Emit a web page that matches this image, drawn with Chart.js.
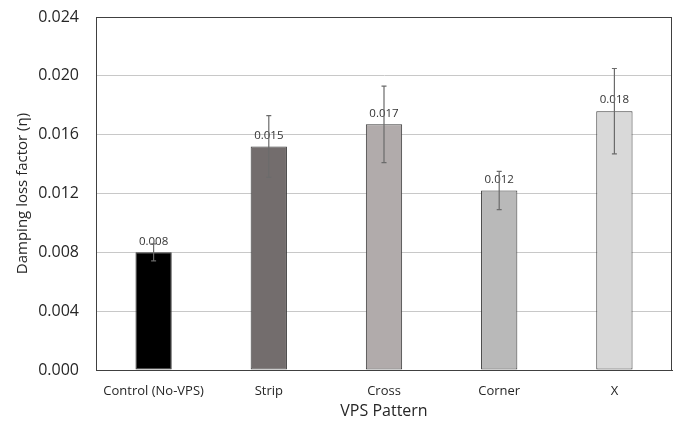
<!DOCTYPE html>
<html>
<head>
<meta charset="utf-8">
<script src="https://cdn.jsdelivr.net/npm/chart.js"></script>
<style>
  html, body { margin: 0; padding: 0; background: #fff; }
  #wrap { width: 678px; height: 422px; }
</style>
</head>
<body>
<div id="wrap"><canvas id="chart" width="678" height="422"></canvas></div>
<script>
const patterns = ['Control (No-VPS)', 'Strip', 'Cross', 'Corner', 'X'];
const lossFactor = [0.0080, 0.0152, 0.0167, 0.0122, 0.0176];
const errors = [0.00058, 0.0021, 0.0026, 0.0013, 0.0029];
const yTicks = [0, 0.004, 0.008, 0.012, 0.016, 0.020, 0.024];
const barColors = ['#000000', '#736d6d', '#b1abab', '#b9b9b9', '#d9d9d9'];

const FONT = '"Open Sans", "DejaVu Sans", sans-serif';

// value labels above bars, then error bars on top
const barExtras = {
  id: 'barExtras',
  afterDatasetsDraw(chart) {
    const ctx = chart.ctx;
    const y = chart.scales.y;
    const meta = chart.getDatasetMeta(0);
    ctx.save();
    ctx.font = '11.5px ' + FONT;
    ctx.fillStyle = '#333333';
    ctx.textAlign = 'center';
    ctx.textBaseline = 'middle';
    meta.data.forEach((bar, i) => {
      ctx.fillText(lossFactor[i].toFixed(3), bar.x, bar.y - 11);
    });
    ctx.strokeStyle = '#6b6b6b';
    ctx.lineWidth = 1.2;
    meta.data.forEach((bar, i) => {
      const hi = y.getPixelForValue(lossFactor[i] + errors[i]);
      const lo = y.getPixelForValue(lossFactor[i] - errors[i]);
      ctx.beginPath();
      ctx.moveTo(bar.x, hi); ctx.lineTo(bar.x, lo);
      ctx.moveTo(bar.x - 2.5, hi); ctx.lineTo(bar.x + 2.5, hi);
      ctx.moveTo(bar.x - 2.5, lo); ctx.lineTo(bar.x + 2.5, lo);
      ctx.stroke();
    });
    // plot frame
    const a = chart.chartArea;
    ctx.strokeStyle = '#404040';
    ctx.lineWidth = 1;
    ctx.strokeRect(a.left + 0.5, a.top + 0.5, a.right - a.left - 1, a.bottom - a.top);
    ctx.restore();
  }
};

new Chart(document.getElementById('chart'), {
  type: 'bar',
  data: {
    labels: patterns,
    datasets: [{
      data: lossFactor,
      backgroundColor: barColors,
      borderColor: '#3a3a3a',
      borderWidth: 1,
      borderSkipped: false,
      categoryPercentage: 1,
      barPercentage: 0.315
    }]
  },
  options: {
    responsive: false,
    animation: false,
    layout: { padding: { left: 0, right: 6, top: 17, bottom: 0 } },
    plugins: {
      legend: { display: false },
      tooltip: { enabled: false }
    },
    scales: {
      x: {
        afterFit: s => { s.height = 52; },
        grid: { display: false },
        border: { color: '#404040', width: 1 },
        ticks: { color: '#262626', font: { family: FONT, size: 13 }, padding: 5, maxRotation: 0 },
        title: {
          display: true, text: 'VPS Pattern', color: '#262626',
          font: { family: FONT, size: 16 }, padding: { top: 0, bottom: 1 }
        }
      },
      y: {
        min: 0,
        max: 0.024,
        afterFit: s => { s.width = 96; s.paddingTop = 0; s.paddingBottom = 0; },
        afterBuildTicks: s => { s.ticks = yTicks.map(v => ({ value: v })); },
        grid: { color: '#c8c8c8', drawTicks: false },
        border: { color: '#404040', width: 1 },
        ticks: {
          color: '#262626', font: { family: FONT, size: 16 }, padding: 17,
          callback: v => v.toFixed(3)
        },
        title: {
          display: true, text: 'Damping loss factor (η)', color: '#262626',
          font: { family: FONT, size: 15 }, padding: { top: 14, bottom: 0 }
        }
      }
    }
  },
  plugins: [barExtras]
});
</script>
</body>
</html>
